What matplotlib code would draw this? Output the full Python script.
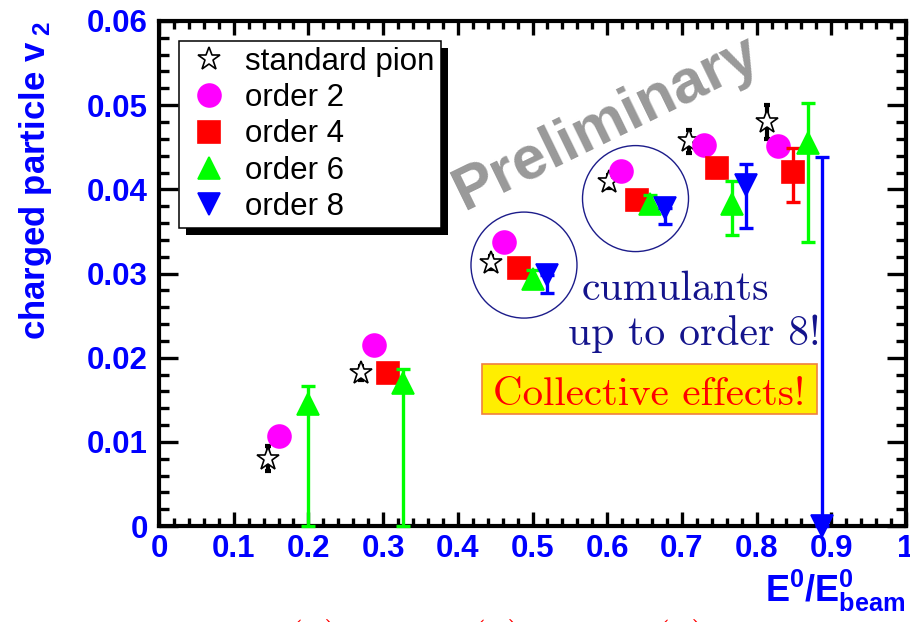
import matplotlib
matplotlib.use('Agg')
import matplotlib.pyplot as plt
from matplotlib.ticker import MultipleLocator
from matplotlib.patches import Ellipse, Rectangle

plt.rcParams['font.family'] = ['Liberation Sans', 'DejaVu Sans']
plt.rcParams['mathtext.fontset'] = 'custom'
plt.rcParams['mathtext.rm'] = 'Liberation Sans:bold'
plt.rcParams['mathtext.bf'] = 'Liberation Sans:bold'
plt.rcParams['mathtext.it'] = 'Liberation Sans:bold'

# standard pion
x_pion = [0.146, 0.271, 0.445, 0.602, 0.710, 0.814]
v2_pion = [0.0080, 0.0182, 0.0313, 0.0409, 0.0457, 0.0480]
err_pion = [0.0015, 0.0008, 0.0008, 0.0008, 0.0014, 0.0020]

# order 2
x_o2 = [0.161, 0.288, 0.462, 0.619, 0.729, 0.829]
v2_o2 = [0.0107, 0.0215, 0.0338, 0.0422, 0.0453, 0.0451]

# order 4
x_o4 = [0.307, 0.482, 0.640, 0.747, 0.849]
v2_o4 = [0.0182, 0.0307, 0.0387, 0.0425, 0.0420]
o4_lo = [0.001, 0.001, 0.001, 0.001, 0.0035]
o4_hi = [0.001, 0.001, 0.001, 0.001, 0.0029]

# order 6
x_o6 = [0.200, 0.326, 0.501, 0.657, 0.767, 0.869]
v2_o6 = [0.0145, 0.0170, 0.0294, 0.0383, 0.0383, 0.0455]
o6_lo = [0.0145, 0.0170, 0.001, 0.001, 0.0037, 0.0117]
o6_hi = [0.0021, 0.0017, 0.001, 0.001, 0.0027, 0.0048]

# order 8
x_o8 = [0.520, 0.677, 0.786, 0.887]
v2_o8 = [0.0298, 0.0378, 0.0405, 0.0]
o8_lo = [0.0021, 0.0019, 0.0051, 0.0]
o8_hi = [0.0, 0.0, 0.0025, 0.0438]

x_ticks = [0, 0.1, 0.2, 0.3, 0.4, 0.5, 0.6, 0.7, 0.8, 0.9, 1.0]
x_labels = ['0', '0.1', '0.2', '0.3', '0.4', '0.5', '0.6', '0.7', '0.8', '0.9', '1']
y_ticks = [0, 0.01, 0.02, 0.03, 0.04, 0.05, 0.06]
y_labels = ['0', '0.01', '0.02', '0.03', '0.04', '0.05', '0.06']

# circles around the two clusters (centre x, centre y)
ring_x = [0.4886, 0.6379]
ring_y = [0.0310, 0.0389]

fig = plt.figure(figsize=(9.1, 6.22), dpi=100)
ax = fig.add_axes([159 / 910, 96 / 622, 747 / 910, 505 / 622])
ax.set_xlim(0, 1)
ax.set_ylim(0, 0.06)

px_x = 1 / 747
px_y = 0.06 / 505


def series(x, y, lo, hi, color, marker, ms, label, z, mfc=None, cap=4.7, elw=2.4):
    if lo is not None:
        ax.errorbar(x, y, yerr=[lo, hi], fmt='none', ecolor=color, elinewidth=elw,
                    capsize=cap, capthick=elw, zorder=z, clip_on=False)
    ax.plot(x, y, linestyle='none', marker=marker, ms=ms, color=color,
            mfc=mfc if mfc else color, mec=color, mew=1.2, label=label,
            zorder=z + 0.5, clip_on=False)


series(x_pion, v2_pion, err_pion, err_pion, 'black', '*', 17, 'standard pion', 2,
       mfc='white', cap=2.5, elw=3)
series(x_o2, v2_o2, None, None, '#ff00ff', 'o', 16.5, 'order 2', 3)
series(x_o4, v2_o4, o4_lo, o4_hi, '#ff0000', 's', 16, 'order 4', 4)
series(x_o6, v2_o6, o6_lo, o6_hi, '#00ff00', '^', 16.5, 'order 6', 5)
series(x_o8, v2_o8, o8_lo, o8_hi, '#0000ff', 'v', 16.5, 'order 8', 6)

for cx, cy in zip(ring_x, ring_y):
    ax.add_patch(Ellipse((cx, cy), 106 * px_x, 106 * px_y, fill=False,
                         edgecolor='#1c1c8a', lw=1.0, zorder=1))

ax.text(0.600, 0.0478, 'Preliminary', rotation=26, fontsize=44, fontweight='bold',
        color='#999999', ha='center', va='center', zorder=0.5)

ax.text(0.566, 0.02685, 'cumulants', family='cmr10', fontsize=30, color='#14148c',
        va='baseline', zorder=7)
ax.text(0.5475, 0.0215, 'up to order 8!', family='cmr10', fontsize=30, color='#14148c',
        va='baseline', zorder=7)

ax.add_patch(Rectangle((0.432, 0.0133), 0.449, 0.00591, facecolor='#ffee00',
                       edgecolor='#f08040', lw=1.2, zorder=7))
ax.text(0.447, 0.01438, 'Collective effects!', family='cmr10', fontsize=29.5,
        color='#ff0000', va='baseline', zorder=8)

# axes styling (ROOT-like)
ax.set_xticks(x_ticks, x_labels)
ax.set_yticks(y_ticks, y_labels)
ax.xaxis.set_minor_locator(MultipleLocator(0.02))
ax.yaxis.set_minor_locator(MultipleLocator(0.002))
ax.tick_params(which='both', direction='in', top=True, right=True, width=2.4,
               labelsize=22.5, labelcolor='#0000ff')
ax.tick_params(axis='x', which='major', length=10, pad=6)
ax.tick_params(axis='x', which='minor', length=5.5)
ax.tick_params(axis='y', which='major', length=14, pad=8)
ax.tick_params(axis='y', which='minor', length=7)
for lab in ax.get_xticklabels() + ax.get_yticklabels():
    lab.set_fontweight('bold')
for sp in ax.spines.values():
    sp.set_linewidth(3)

ax.set_ylabel(r'charged particle v$_{\ \mathbf{2}}$', fontsize=25, fontweight='bold',
              color='#0000ff', loc='top')
ax.yaxis.set_label_coords(-0.14, 1.0)
ax.set_xlabel(r'E$^{\mathbf{0}}$/E$^{\mathbf{0}}_{\mathbf{beam}}$', fontsize=26,
              fontweight='bold', color='#0000ff', loc='right')
ax.xaxis.set_label_coords(1.0, -0.082)

leg = ax.legend(loc='upper left', bbox_to_anchor=(20 / 747, (526 - 40.7) / 505),
                borderaxespad=0, fontsize=22.5, frameon=True, fancybox=False,
                framealpha=1, edgecolor='black', borderpad=0.2, labelspacing=0.2,
                handlelength=1.5, handletextpad=0.42, numpoints=1)
leg.get_frame().set_linewidth(1.1)
leg.set_zorder(20)

fig.canvas.draw()
bb = leg.get_frame().get_window_extent().transformed(ax.transAxes.inverted())
ax.add_patch(Rectangle((bb.x0 + 7 * px_x, bb.y0 - 7 / 505), bb.width, bb.height,
                       transform=ax.transAxes, facecolor='black', edgecolor='none',
                       zorder=19, clip_on=False))

# cut-off panel labels at the bottom edge
for xf, s in zip([0.345, 0.546, 0.748], ['(1)', '(2)', '(3)']):
    fig.text(xf, -0.0465, s, family='cmr10', fontsize=30, color='#ff0000',
             ha='center', va='baseline')

fig.savefig('out.png', dpi=100)
